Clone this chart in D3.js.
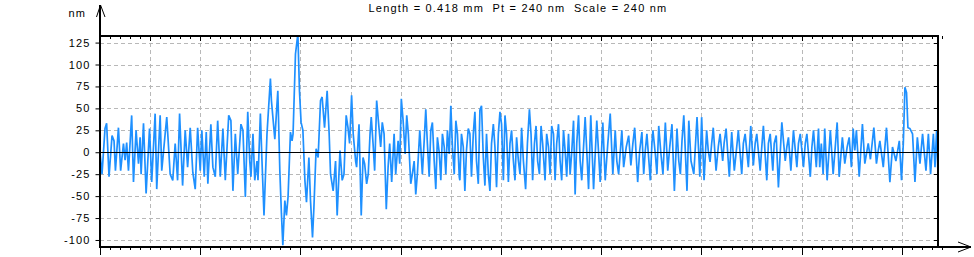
<!DOCTYPE html>
<html>
<head>
<meta charset="utf-8">
<script src="https://cdn.jsdelivr.net/npm/d3@7"></script>
<style>
  body { margin: 0; background: #fff; }
  text { font-family: "Liberation Sans", Arial, sans-serif; fill: #000; }
</style>
</head>
<body>
<svg id="chart" width="974" height="257"></svg>
<script>
// profile readings: [position in um, height in nm]
var profile = [
  [0,0],[1,-25],[2.5,27],[3.3,33],[4.5,-28],[6,19],[7,13],[7.7,-21],[9.2,28],[10.3,-21],[11.7,10],[12.5,-9],
  [13.3,11],[14.2,-21],[15.8,42],[16.7,-34],[18,25],[19.2,-13],[20,17],[20.5,-25],[21.7,33],[23,-47],[24.7,27],
  [25.8,-34],[27.5,44],[28.3,-42],[30,42],[30.8,-21],[32.5,21],[33.3,40],[35,-25],[36.3,-32],[37.5,10],[38.7,-32],
  [39.7,44],[41.2,-38],[42.5,25],[43.7,-17],[45,28],[46.3,-23],[47.5,-42],[48.7,28],[50,-21],[50.8,25],[52,-28],
  [53,23],[53.8,-36],[55.3,32],[56.3,-17],[57.5,-28],[58.7,36],
  [60,-28],[61.3,27],[62.5,-32],[64.2,42],[65.3,36],[66.3,-44],[67.5,21],[68.7,-25],[70.3,32],[71.3,25],[72.5,-51],
  [73.7,46],[74.7,-10],[75.3,-28],[76.3,21],[77.2,-32],[78.3,-10],[78.8,-32],[80,44],[80.8,-10],[81.8,-72],[83.3,21],
  [85,84],[85.5,59],[87.2,15],[88.7,70],[89.7,-21],[90.5,-70],[91.2,-106],[92.2,-55],[93,-72],[93.8,-51],[95,23],
  [95.8,13],[96.3,21],[97.5,112],[98.7,135],[99.5,70],[100.3,34],[101.2,25],[102.2,-32],[103,-57],[104.2,-6],
  [105,-55],[106,-97],[106.7,-63],[107.8,4],[108.8,-6],[110,59],[110.8,63],[112,28],[113.3,70],[114.3,21],[115,-25],
  [116.3,-44],[117.5,-10],[118.3,-72],[119.7,2],
  [120.8,-32],[121.7,-25],[122.8,42],[123.7,28],[124.5,10],[125.5,65],[126.3,21],[127.5,-10],[128,-17],[129.2,32],
  [130.3,-72],[131.2,-6],[132,-13],[133,-36],[133.8,-25],[134.7,21],[135.3,40],[136.2,10],[137,-21],[138,59],
  [139,32],[140,6],[140.8,34],[141.7,21],[142.8,-65],[143.7,-17],[144.5,10],[145.5,-34],[146.7,21],[147.5,-25],
  [148.7,13],[149.5,-13],[150.3,61],[151.2,36],[152.2,-2],[153,42],[153.8,21],[155,-36],[155.8,-25],[156.7,-10],
  [157.5,-48],[158.3,-25],[159.5,25],[160,6],[160.8,-25],[161.7,13],[162.5,49],[163.3,10],[164.2,-28],[165,25],
  [165.8,34],[166.7,-10],[167.5,-42],[168.3,17],[169.2,0],[170,-32],[170.8,21],[171.7,6],[172.5,-25],[173.3,25],
  [174.2,-2],[175,53],[175.8,6],[176.7,-25],[177.5,36],[178.3,21],[179.2,-28],
  [179.5,-32],[180.3,21],[181.2,6],[182,-44],[182.8,2],[183.7,27],[184.5,21],[185.3,-28],[186.2,21],[187,46],
  [187.8,-10],[188.7,-36],[189.5,48],[190.3,53],[191.2,-6],[192,-38],[192.8,21],[193.7,-25],[194.5,-44],[195.3,10],
  [196.2,32],[197,6],[197.8,-40],[198.7,21],[199.5,46],[200.3,32],[201.2,-32],[202,42],[202.8,21],[203.7,-34],
  [204.5,10],[205.3,25],[206.2,-10],[207,-32],[207.8,17],[208.7,-10],[209.5,-25],[210.3,28],[211.2,-10],[212.3,-42],
  [213.2,10],[214.2,49],[215,21],[215.8,-32],[216.7,10],[217.5,30],[218.3,-10],[219.2,-25],[220,30],[220.8,10],
  [222,-32],[222.8,21],[223.7,6],[224.5,-25],[225.3,30],[226.2,21],[227,-32],[227.8,10],[228.7,32],[229.5,-10],
  [230.3,-32],[231.2,25],[232,2],[232.8,-28],[233.7,21],[234.5,-25],[235.3,0],[236.2,36],[237,-48],[237.8,10],
  [238.7,42],
  [239.5,-10],[240.3,-32],[242,40],[243.7,-42],[244.8,42],[246.2,-42],[247.8,36],[249.5,-34],[250.8,34],[252,-32],
  [253.3,10],[254.5,44],[255.8,-25],[257,25],[257.8,-10],[258.7,-25],[260.3,25],[261.2,-17],[262.5,6],[263.7,19],
  [264.8,-15],[265.8,10],[266.7,28],[268.2,-34],[269.2,2],[270.3,23],[271.2,-25],[272,2],[272.8,21],[274.5,-32],
  [275.3,10],[275.8,25],[277,-2],[277.8,-25],[278.7,30],[279.8,-2],[280.8,-25],[282,34],[283.2,-21],[284.2,6],
  [285.3,32],[286.5,-44],[287.8,27],[288.7,-10],[289.5,-25],[290.3,13],[291.2,42],[292.8,-44],[293.7,36],[294.8,-10],
  [296.2,-25],[297.8,40],[299.2,-28],
  [300.1,40],[301.3,-32],[302.6,25],[303.4,2],[304.3,-11],[305.1,10],[305.9,28],[307.3,-21],[308.4,6],[309.3,21],
  [310.6,-10],[311.3,10],[312.3,27],[313.9,-28],[315.1,23],[316.4,-21],[317.6,6],[318.4,25],[320.1,-25],[320.9,10],
  [321.8,21],[323.4,-17],[324.6,30],[325.9,-15],[326.8,10],[327.6,21],[329.3,-21],[330.1,6],[330.9,30],[332.6,-32],
  [333.4,10],[334.3,21],[335.6,-21],[336.3,10],[337.3,19],[338.4,-40],[340.1,34],[341.8,-10],[342.6,6],[343.4,17],
  [344.6,-21],[345.9,25],[347.6,-17],[348.4,10],[349.3,21],[350.9,-17],[351.8,10],[352.6,21],[354.3,-28],[355.1,6],
  [355.9,25],[357.3,-17],[358.4,27],
  [359,-17],[359.8,10],[360.7,-25],[361.5,27],[362.7,-32],[364.3,25],[365.7,-25],[367.7,34],[368.7,-28],[370.3,17],
  [371.5,-13],[372.7,6],[373.7,17],[374.8,-17],[375.7,27],[376.5,2],[377.3,25],[378.7,-28],[380.3,32],[381.5,-13],
  [382.3,-2],[383.2,10],[384.3,-8],[386,28],[387.3,-13],[388.2,2],[389,13],[390.7,-17],[392.3,28],[394,-34],
  [395.3,6],[397,-10],[398.7,13],[399.8,-32],[400.7,10],[401.5,74],[402.3,68],[403,28],[404,27],[405.3,21],
  [406.5,-34],[407.7,17],[409,-13],[410.3,21],[412,-21],[413.2,21],[414.3,-25],[415.7,21],[416.5,-17],[417.3,25],
  [418,-25]
];

var yTicks = [-100, -75, -50, -25, 0, 25, 50, 75, 100, 125];
var xGridMm = [0.025, 0.05, 0.075, 0.1, 0.125, 0.15, 0.175, 0.2, 0.225, 0.25, 0.275, 0.3, 0.325, 0.35, 0.375, 0.4];
var lengthMm = 0.418;
var titleText = "Length = 0.418 mm  Pt = 240 nm  Scale = 240 nm";
var yUnit = "nm";

var svg = d3.select("#chart");
var plotL = 100, plotR = 938, plotT = 36, plotB = 247;

var x = d3.scaleLinear().domain([0, lengthMm * 1000]).range([plotL, plotR]);
var xmm = d3.scaleLinear().domain([0, lengthMm]).range([plotL, plotR]);
var y = d3.scaleLinear().domain([-108, 132.5]).range([plotB, plotT]);

function py(v){ return Math.round(y(v)) + 0.5; }
function pxm(v){ return Math.round(xmm(v)) + 0.5; }

// dashed grid
var grid = svg.append("g");
yTicks.forEach(function(t){
  if (t == 0) return;
  grid.append("line").attr("x1", plotL).attr("x2", plotR)
      .attr("y1", py(t)).attr("y2", py(t))
      .attr("stroke", "#b8b8b8").attr("stroke-dasharray", "4,3");
});
xGridMm.forEach(function(t){
  grid.append("line").attr("y1", plotT).attr("y2", plotB)
      .attr("x1", pxm(t)).attr("x2", pxm(t))
      .attr("stroke", "#b8b8b8").attr("stroke-dasharray", "4,3");
});

// profile
svg.append("clipPath").attr("id", "plotclip").append("rect")
   .attr("x", plotL).attr("y", plotT).attr("width", plotR - plotL).attr("height", plotB - plotT);

var line = d3.line()
  .x(function(d){ return x(d[0]); })
  .y(function(d){ return y(d[1]); })
  .curve(d3.curveLinear);

svg.append("path").attr("d", line(profile))
   .attr("clip-path", "url(#plotclip)")
   .attr("fill", "none").attr("stroke", "#1e90ff").attr("stroke-width", 1.7)
   .attr("stroke-linejoin", "bevel");

// zero line
svg.append("line").attr("x1", plotL).attr("x2", plotR)
   .attr("y1", py(0)).attr("y2", py(0))
   .attr("stroke", "#000").attr("stroke-width", 1);

// frame: top and right
svg.append("line").attr("x1", plotL).attr("x2", plotR + 1).attr("y1", plotT).attr("y2", plotT)
   .attr("stroke", "#000").attr("stroke-width", 2);
svg.append("line").attr("x1", plotR).attr("x2", plotR).attr("y1", plotT).attr("y2", plotB)
   .attr("stroke", "#000").attr("stroke-width", 2);

// top and bottom ticks
var minorMm = d3.range(0, 0.4201, 0.005);
minorMm.forEach(function(t){
  var major = Math.abs(t / 0.025 - Math.round(t / 0.025)) < 1e-6;
  svg.append("line").attr("x1", pxm(t)).attr("x2", pxm(t))
     .attr("y1", plotT).attr("y2", plotT + (major ? 5 : 3)).attr("stroke", "#000");
  var major2 = Math.abs(t / 0.05 - Math.round(t / 0.05)) < 1e-6;
  svg.append("line").attr("x1", pxm(t)).attr("x2", pxm(t))
     .attr("y1", plotB).attr("y2", plotB + (major2 ? 8 : 3)).attr("stroke", "#000");
});

// right ticks
yTicks.forEach(function(t){
  svg.append("line").attr("x1", plotR - 4).attr("x2", plotR)
     .attr("y1", py(t)).attr("y2", py(t)).attr("stroke", "#000");
});

// left axis with labels
var yAxis = d3.axisLeft(y).tickValues(yTicks).tickSize(5).tickPadding(5)
  .tickFormat(function(d){ return String(d); });
var ga = svg.append("g").attr("transform", "translate(" + (plotL + 0.5) + ",0)").call(yAxis);
ga.select(".domain").remove();
ga.selectAll("text").attr("font-family", null).attr("font-size", null)
  .style("font-size", "11px").style("letter-spacing", "1.1px");

// y axis line and arrow
svg.append("line").attr("x1", plotL).attr("x2", plotL).attr("y1", 5).attr("y2", plotB + 1)
   .attr("stroke", "#000").attr("stroke-width", 2);
svg.append("path").attr("d", "M96.5,17 L100.5,5 L105,17").attr("fill", "none").attr("stroke", "#000");

// x axis line and arrow
svg.append("line").attr("x1", plotL - 1).attr("x2", 971).attr("y1", plotB).attr("y2", plotB)
   .attr("stroke", "#000").attr("stroke-width", 2);
svg.append("path").attr("d", "M958,242 L971,247 L958,252").attr("fill", "none").attr("stroke", "#000");

// unit + title
svg.append("text").attr("x", 86).attr("y", 17).attr("text-anchor", "end")
   .style("font-size", "11px").style("letter-spacing", "1.1px").text(yUnit);
svg.append("text").attr("x", 518).attr("y", 12).attr("text-anchor", "middle")
   .style("font-size", "11px").style("letter-spacing", "1.2px").style("white-space", "pre").text(titleText);
</script>
</body>
</html>
